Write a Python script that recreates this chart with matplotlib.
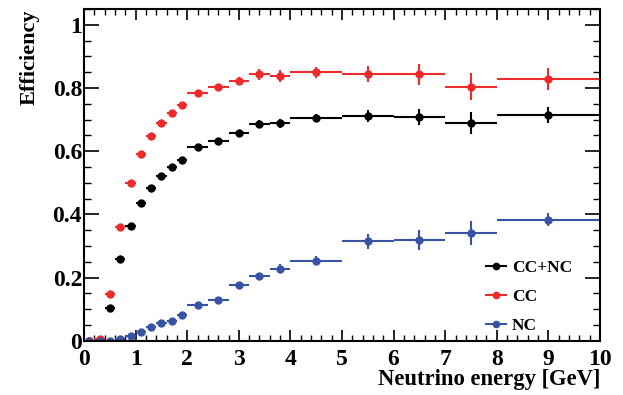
import numpy as np
import matplotlib
matplotlib.use("Agg")
import matplotlib.pyplot as plt
from matplotlib.ticker import MultipleLocator
from matplotlib.lines import Line2D

# ==========================
# Data
# ==========================
bin_edges = [0.0, 0.2, 0.4, 0.6, 0.8, 1.0, 1.2, 1.4, 1.6, 1.8, 2.0,
             2.4, 2.8, 3.2, 3.6, 4.0, 5.0, 6.0, 7.0, 8.0, 10.0]

eff_all = [0.0, 0.002, 0.105, 0.259, 0.365, 0.436, 0.485, 0.523, 0.550, 0.573,
           0.614, 0.633, 0.657, 0.687, 0.689, 0.705, 0.713, 0.708, 0.689, 0.715]
err_all = [0.002, 0.003, 0.004, 0.005, 0.005, 0.005, 0.005, 0.006, 0.006, 0.006,
           0.006, 0.007, 0.009, 0.012, 0.014, 0.013, 0.019, 0.026, 0.034, 0.026]

eff_cc = [0.0, 0.005, 0.149, 0.359, 0.500, 0.590, 0.648, 0.690, 0.722, 0.746,
          0.784, 0.804, 0.823, 0.844, 0.839, 0.850, 0.845, 0.843, 0.804, 0.828]
err_cc = [0.003, 0.004, 0.006, 0.006, 0.006, 0.006, 0.006, 0.006, 0.006, 0.007,
          0.007, 0.008, 0.012, 0.017, 0.019, 0.018, 0.026, 0.034, 0.043, 0.035]

eff_nc = [0.0, 0.0, 0.0, 0.005, 0.017, 0.028, 0.043, 0.057, 0.064, 0.083,
          0.114, 0.129, 0.176, 0.205, 0.229, 0.254, 0.315, 0.319, 0.341, 0.383]
err_nc = [0.002, 0.002, 0.002, 0.002, 0.003, 0.003, 0.004, 0.004, 0.005, 0.005,
          0.006, 0.007, 0.008, 0.011, 0.015, 0.014, 0.024, 0.031, 0.038, 0.021]

labels = ["CC+NC", "CC", "NC"]
colors = ["black", "#ee2a2a", "#3953a4"]

# ==========================
# Plot
# ==========================
plt.rcParams['font.family'] = ['Liberation Serif', 'DejaVu Serif']
plt.rcParams['font.weight'] = 'bold'

edges = np.array(bin_edges)
x = 0.5 * (edges[:-1] + edges[1:])
xerr = 0.5 * np.diff(edges)

fig = plt.figure(figsize=(6.23, 3.95), dpi=100)
ax = fig.add_axes([0.135, 0.137, 0.828, 0.840])

series = [(eff_all, err_all), (eff_cc, err_cc), (eff_nc, err_nc)]
handles = []
for (y, yerr), lab, col in zip(series, labels, colors):
    ax.errorbar(x, y, xerr=xerr, yerr=yerr, fmt='o', color=col,
                markersize=5, elinewidth=1.5, capsize=0)
    handles.append(Line2D([], [], color=col, marker='o', markersize=4.5,
                          linewidth=1.5, label=lab))

ax.set_xlim(0, 10)
ax.set_ylim(0, 1.05)

ax.xaxis.set_major_locator(MultipleLocator(1))
ax.xaxis.set_minor_locator(MultipleLocator(0.2))
ax.yaxis.set_minor_locator(MultipleLocator(0.05))
ax.set_yticks([0, 0.2, 0.4, 0.6, 0.8, 1.0])
ax.set_yticklabels(["0", "0.2", "0.4", "0.6", "0.8", "1"])

ax.tick_params(axis='x', which='major', direction='in', length=8, width=1.2,
               top=True, labelsize=17, pad=5.5)
ax.tick_params(axis='x', which='minor', direction='in', length=4, width=1,
               top=True)
ax.tick_params(axis='y', which='major', direction='in', length=11, width=1.2,
               right=True, labelsize=17, pad=1.5)
ax.tick_params(axis='y', which='minor', direction='in', length=5, width=1,
               right=True)

for s in ax.spines.values():
    s.set_linewidth(1.5)

ax.set_xlabel("Neutrino energy [GeV]", fontsize=16.3, fontweight='bold',
              loc='right', labelpad=-0.5)
ax.set_ylabel("Efficiency", fontsize=16, fontweight='bold', loc='top',
              labelpad=9)

ax.legend(handles=handles, loc='center left', bbox_to_anchor=(0.779, 0.132),
          frameon=False, fontsize=12.5, handlelength=1.15, handletextpad=0.35,
          labelspacing=0.75, borderpad=0, borderaxespad=0)

plt.savefig("out.png", dpi=100)
plt.close()
